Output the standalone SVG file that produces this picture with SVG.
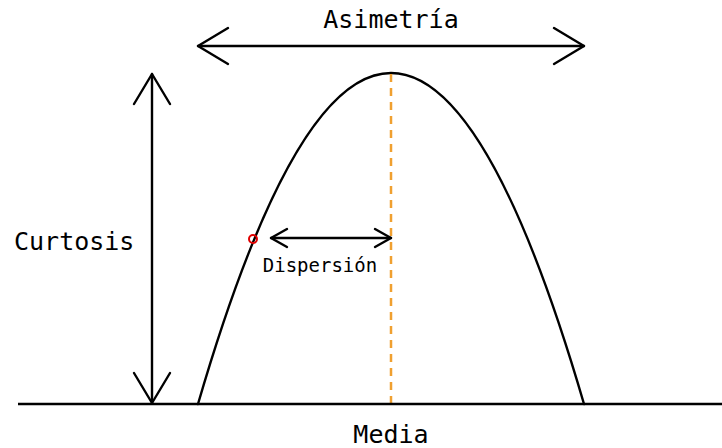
<svg xmlns="http://www.w3.org/2000/svg" width="722" height="448" viewBox="0 0 722 448">
<style>
.ln{fill:none;stroke:#000;stroke-width:2.4;stroke-linecap:round;stroke-linejoin:round}
.t{font-family:"DejaVu Sans Mono","Liberation Mono",monospace;fill:#000}
</style>
<rect width="722" height="448" fill="#fff"/>
<g id="curve">
<path class="ln" d="M198,404 Q391,-258 584,404"/>
</g>
<g id="media-line">
<line x1="391" y1="74" x2="391" y2="404" stroke="#f0a030" stroke-width="2.5" stroke-dasharray="8,6"/>
</g>
<g id="connectors">
<g id="asimetria-arrow">
<line class="ln" x1="198" y1="46" x2="584" y2="46"/>
<polyline class="ln" points="228,28 198,46 228,64"/>
<polyline class="ln" points="554,28 584,46 554,64"/>
</g>
<g id="curtosis-arrow">
<line class="ln" x1="152" y1="74" x2="152" y2="403"/>
<polyline class="ln" points="134,104 152,74 170,104"/>
<polyline class="ln" points="134,373 152,403 170,373"/>
</g>
<g id="dispersion-arrow">
<line class="ln" x1="271" y1="238" x2="391" y2="238"/>
<polyline class="ln" points="287,229 271,238 287,247"/>
<polyline class="ln" points="375,229 391,238 375,247"/>
</g>
</g>
<g id="axis">
<line x1="18" y1="404" x2="722" y2="404" stroke="#000" stroke-width="2.4"/>
</g>
<g id="point">
<circle cx="253" cy="239" r="4" fill="none" stroke="#e00000" stroke-width="2"/>
</g>
<g id="labels">
<text class="t" x="391" y="28" font-size="25" text-anchor="middle">Asimetría</text>
<text class="t" x="14" y="250" font-size="25">Curtosis</text>
<text class="t" x="320" y="272" font-size="19" text-anchor="middle">Dispersión</text>
<text class="t" x="391" y="443" font-size="25" text-anchor="middle">Media</text>
</g>
</svg>
